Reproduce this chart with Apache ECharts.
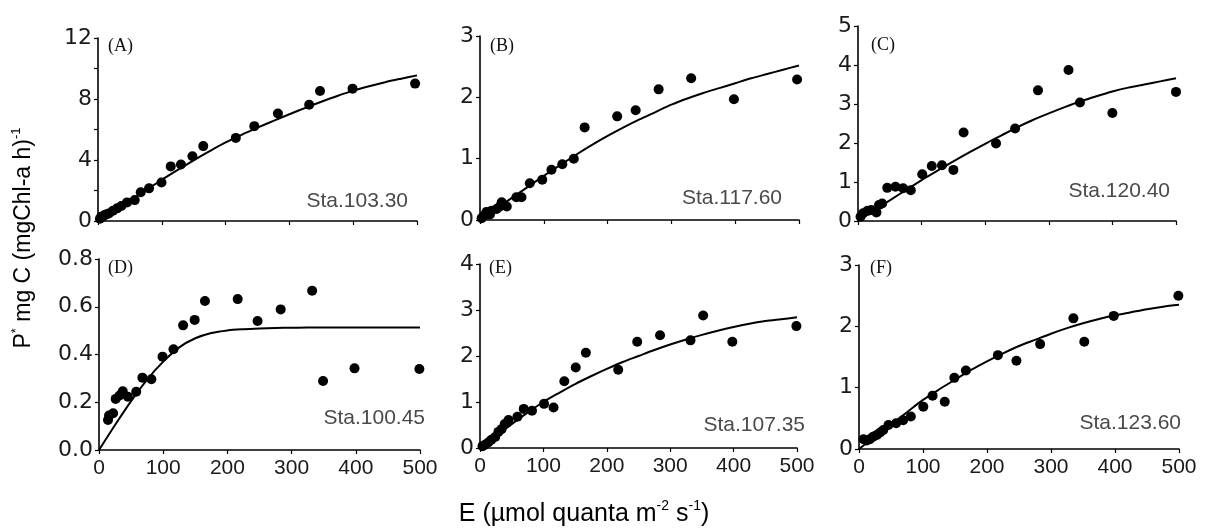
<!DOCTYPE html>
<html>
<head>
    <meta charset="utf-8">
    <title>P-E curves</title>
    <script src="https://cdn.jsdelivr.net/npm/echarts@6/dist/echarts.min.js"></script>
    <style>
        html, body { margin: 0; padding: 0; background: #fff; }
        #main { width: 1207px; height: 529px; }
    </style>
</head>
<body>
<div id="main"></div>
<script type="text/javascript">
// measured points, E (x) and P (y), one pair per panel
var eA = [3, 5, 8, 10.5, 14, 17, 23.6, 30, 36.6, 45.5, 57.6, 67, 80, 99.5, 114, 130, 148, 165, 216, 245, 282, 331, 348, 399, 497];
var pA = [0.15, 0.28, 0.3, 0.39, 0.45, 0.5, 0.68, 0.83, 0.98, 1.22, 1.37, 1.88, 2.14, 2.53, 3.58, 3.71, 4.25, 4.91, 5.45, 6.22, 7.05, 7.62, 8.53, 8.68, 9.01];

var eB = [2.6, 6, 10, 15.6, 18, 26, 31, 34, 42, 57, 65, 78, 97.6, 112, 129, 147, 164, 215, 244, 280, 331, 398, 497];
var pB = [0.03, 0.07, 0.13, 0.09, 0.15, 0.18, 0.22, 0.29, 0.22, 0.37, 0.37, 0.60, 0.655, 0.82, 0.91, 1.0, 1.51, 1.69, 1.79, 2.13, 2.31, 1.97, 2.29];

var eC = [4, 8, 15, 21, 29, 33, 38, 46, 59, 71, 83, 101, 116, 132, 150, 166, 217, 247, 283, 331, 349, 400, 500];
var pC = [0.11, 0.2, 0.26, 0.28, 0.22, 0.41, 0.45, 0.85, 0.88, 0.84, 0.79, 1.2, 1.41, 1.43, 1.31, 2.27, 1.99, 2.37, 3.35, 3.87, 3.04, 2.77, 3.31];

var eD = [14, 15.6, 22, 26, 32, 37, 45, 58, 67.6, 81.6, 99, 116, 131, 149, 165, 216, 247, 283, 332, 349, 398, 499];
var pD = [0.126, 0.144, 0.154, 0.214, 0.228, 0.246, 0.223, 0.244, 0.303, 0.296, 0.391, 0.422, 0.522, 0.545, 0.624, 0.632, 0.540, 0.589, 0.667, 0.289, 0.342, 0.339];

var eE = [4, 8, 13, 18, 24, 29, 34, 39, 45, 59, 69, 82, 101, 116, 133, 151, 167, 218, 248, 284, 332, 352, 398, 499];
var pE = [0.04, 0.07, 0.12, 0.18, 0.24, 0.35, 0.41, 0.52, 0.61, 0.68, 0.85, 0.81, 0.96, 0.88, 1.45, 1.75, 2.07, 1.70, 2.31, 2.45, 2.34, 2.88, 2.31, 2.65];

var eF = [7, 12, 17, 22, 28, 33, 38, 46, 58, 69, 81, 100.5, 115, 134, 149, 167, 217, 246, 283, 335, 352, 398, 499];
var pF = [0.16, 0.14, 0.16, 0.2, 0.23, 0.27, 0.31, 0.39, 0.42, 0.47, 0.53, 0.69, 0.87, 0.77, 1.16, 1.28, 1.53, 1.44, 1.71, 2.13, 1.75, 2.17, 2.50];

// fitted curves, every 25 units of E
var fitE = [0, 25, 50, 75, 100, 125, 150, 175, 200, 225, 250, 275, 300, 325, 350, 375, 400, 425, 450, 475, 500];
var fitA = [0, 0.67, 1.35, 2.02, 2.7, 3.35, 3.98, 4.58, 5.15, 5.65, 6.12, 6.57, 7.0, 7.42, 7.82, 8.2, 8.55, 8.84, 9.1, 9.33, 9.55];
var fitB = [0, 0.18, 0.36, 0.54, 0.72, 0.89, 1.06, 1.22, 1.37, 1.51, 1.64, 1.76, 1.88, 1.98, 2.07, 2.15, 2.23, 2.31, 2.38, 2.45, 2.52];
var fitC = [0, 0.27, 0.53, 0.79, 1.05, 1.29, 1.53, 1.76, 1.98, 2.19, 2.4, 2.59, 2.76, 2.92, 3.07, 3.2, 3.32, 3.42, 3.5, 3.58, 3.66];
var fitD = [0, 0.105, 0.205, 0.295, 0.37, 0.43, 0.468, 0.49, 0.501, 0.506, 0.509, 0.511, 0.512, 0.513, 0.513, 0.513, 0.513, 0.513, 0.513, 0.513, 0.513];
var fitEE = [0, 0.26, 0.52, 0.77, 1.0, 1.2, 1.39, 1.56, 1.72, 1.87, 2.0, 2.13, 2.25, 2.36, 2.46, 2.55, 2.63, 2.7, 2.76, 2.8, 2.84];
var fitF = [0, 0.2, 0.4, 0.6, 0.8, 0.97, 1.13, 1.29, 1.43, 1.56, 1.68, 1.78, 1.88, 1.97, 2.05, 2.12, 2.18, 2.23, 2.28, 2.32, 2.35];

var letters = ['(A)', '(B)', '(C)', '(D)', '(E)', '(F)'];
var stations = ['Sta.103.30', 'Sta.117.60', 'Sta.120.40', 'Sta.100.45', 'Sta.107.35', 'Sta.123.60'];
var yMax = [12, 3, 5, 0.8, 4, 3];
var yStep = [2, 1, 1, 0.2, 1, 1];

var pts = [[eA, pA], [eB, pB], [eC, pC], [eD, pD], [eE, pE], [eF, pF]];
var fits = [fitA, fitB, fitC, fitD, fitEE, fitF];

// panel boxes in px: left, top, width, height
var boxes = [
    [98, 38, 319, 183],
    [480, 36, 319, 184],
    [858, 26, 318, 195],
    [99, 259, 321, 191],
    [480, 264, 317, 184],
    [859, 265, 320, 184]
];
var letterPos = [[108, 37], [490, 37], [871, 36], [108, 259], [489, 259], [870, 259]];
var staPos = [[408, 201], [782, 198], [1170, 191], [425, 418], [805, 425], [1181, 423]];

var Cht = echarts.init(document.getElementById('main'));

var grids = [], xAxes = [], yAxes = [], series = [], graphics = [];
for (var i = 0; i < 6; i++) {
    var b = boxes[i];
    grids.push({left: b[0], top: b[1], width: b[2], height: b[3]});
    xAxes.push({
        type: 'value', gridIndex: i, min: 0, max: 500, interval: 100,
        axisLine: {lineStyle: {color: '#000', width: 1.6}},
        axisTick: {show: true, length: 4, lineStyle: {color: '#000', width: 1.2}},
        splitLine: {show: false},
        axisLabel: {show: i >= 3, color: '#1a1a1a', fontSize: 21, margin: 8,
            fontFamily: 'Liberation Sans, Arial, sans-serif'}
    });
    (function (k) {
        yAxes.push({
            type: 'value', gridIndex: k, min: 0, max: yMax[k], interval: yStep[k],
            axisLine: {show: true, lineStyle: {color: '#000', width: 1.6}},
            axisTick: {show: true, length: 4, lineStyle: {color: '#000', width: 1.2}},
            splitLine: {show: false},
            axisLabel: {
                color: '#1a1a1a', fontSize: 22, margin: 6,
                fontFamily: 'DejaVu Sans, Liberation Sans, sans-serif',
                formatter: function (v) {
                    if (k === 0) return (Math.round(v) % 4 === 0) ? String(Math.round(v)) : '';
                    if (k === 3) return v.toFixed(1);
                    return String(Math.round(v));
                }
            }
        });
    })(i);
    var d = [];
    for (var j = 0; j < pts[i][0].length; j++) d.push([pts[i][0][j], pts[i][1][j]]);
    series.push({
        type: 'scatter', xAxisIndex: i, yAxisIndex: i, data: d,
        symbol: 'circle', symbolSize: 10, itemStyle: {color: '#000', opacity: 1}, z: 3
    });
    var f = [];
    for (var j = 0; j < fitE.length; j++) f.push([fitE[j], fits[i][j]]);
    series.push({
        type: 'line', xAxisIndex: i, yAxisIndex: i, data: f,
        showSymbol: false, smooth: 0.3,
        lineStyle: {color: '#000', width: 2}, z: 2
    });
    graphics.push({
        type: 'text', x: letterPos[i][0], y: letterPos[i][1],
        style: {text: letters[i], font: '18px "Liberation Serif", "Times New Roman", serif',
            fill: '#111', align: 'left', verticalAlign: 'top', textAlign: 'left', textVerticalAlign: 'top'}
    });
    graphics.push({
        type: 'text', x: staPos[i][0], y: staPos[i][1],
        style: {text: stations[i], font: '21px "Liberation Sans", Arial, sans-serif',
            fill: '#4a4a4a', align: 'right', verticalAlign: 'middle', textAlign: 'right', textVerticalAlign: 'middle'}
    });
}

// axis titles with superscripts
graphics.push({
    type: 'text', x: 584, y: 514,
    style: {
        text: '{n|E (µmol quanta m}{s|-2}{n| s}{s|-1}{n|)}',
        align: 'center', verticalAlign: 'middle', textAlign: 'center', textVerticalAlign: 'middle',
        rich: {
            n: {fontSize: 25, fontFamily: 'Liberation Sans, Arial, sans-serif', color: '#3a3a3a', lineHeight: 30},
            s: {fontSize: 14, fontFamily: 'Liberation Sans, Arial, sans-serif', color: '#3a3a3a', lineHeight: 16, verticalAlign: 'top'}
        }
    }
});
graphics.push({
    type: 'text', x: 24, y: 238, rotation: Math.PI / 2,
    style: {
        text: '{n|P}{s|*}{n| mg C (mgChl-a h)}{s|-1}',
        align: 'center', verticalAlign: 'middle', textAlign: 'center', textVerticalAlign: 'middle',
        rich: {
            n: {fontSize: 23, fontFamily: 'Liberation Sans, Arial, sans-serif', color: '#3a3a3a', lineHeight: 28},
            s: {fontSize: 13, fontFamily: 'Liberation Sans, Arial, sans-serif', color: '#3a3a3a', lineHeight: 15, verticalAlign: 'top'}
        }
    }
});

option = {
    backgroundColor: '#fff',
    animation: false,
    grid: grids,
    xAxis: xAxes,
    yAxis: yAxes,
    series: series,
    graphic: graphics
};
Cht.setOption(option);
</script>
</body>
</html>
